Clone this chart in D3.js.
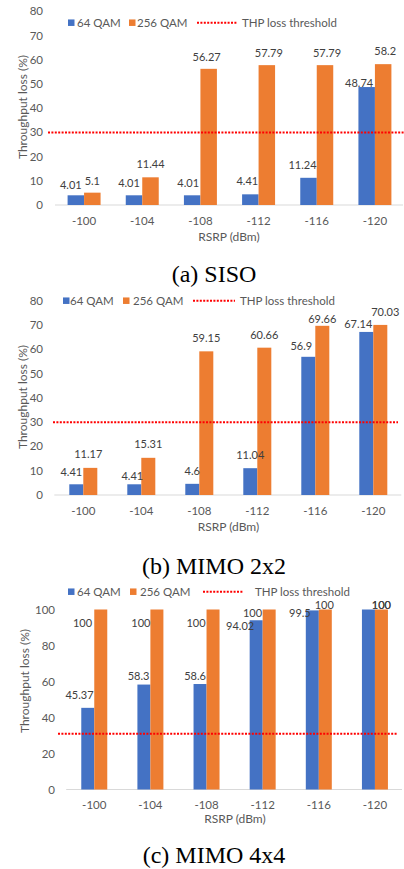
<!DOCTYPE html>
<html><head><meta charset="utf-8">
<script src="https://cdn.jsdelivr.net/npm/d3@7/dist/d3.min.js"></script>
<style>
html,body{margin:0;padding:0;background:#fff;}
svg{display:block;}
</style></head>
<body>
<script>
// ---------- data ----------
const categories = ["-100", "-104", "-108", "-112", "-116", "-120"];
const seriesNames = ["64 QAM", "256 QAM"];
const sisoQam64 = [4.01, 4.01, 4.01, 4.41, 11.24, 48.74];
const sisoQam256 = [5.1, 11.44, 56.27, 57.79, 57.79, 58.2];
const mimo2Qam64 = [4.41, 4.41, 4.6, 11.04, 56.9, 67.14];
const mimo2Qam256 = [11.17, 15.31, 59.15, 60.66, 69.66, 70.03];
const mimo4Qam64 = [45.37, 58.3, 58.6, 94.02, 99.5, 100];
const mimo4Qam256 = [100, 100, 100, 100, 100, 100];
const yTicksAB = [0, 10, 20, 30, 40, 50, 60, 70, 80];
const yTicksC = [0, 20, 40, 60, 80, 100];
const thresholds = [30, 30, 31];
const thresholdName = "THP loss threshold";
const captions = ["(a) SISO", "(b) MIMO 2x2", "(c) MIMO 4x4"];
const xTitle = "RSRP (dBm)";
const yTitle = "Throughput loss (%)";

// ---------- layout (positions / styles) ----------
const W = 404, H = 869;
const colors = ["#4472C4", "#ED7D31"];
const FONT = "Lato, 'Open Sans', sans-serif";
const panels = [
  { s: [sisoQam64, sisoQam256], ticks: yTicksAB, yMax: 80,
    x0: 55, x1: 404, y0: 205, y1: 11.4, bandFrac: 0.567,
    tickRight: 43, yTitleX: 23, yTitleY: 107, xTickBase: 225, xTitleX: 229, xTitleBase: 241,
    capBase: 282, legY: 22.7, leg: [68, 77, 129, 137, 197, 237, 242], thrX: [48, 404],
    // label nudges: [series][cat] = [dx, dy] relative to a point 12px above the bar top-centre
    nudge: [[[-5,1.7],[-5,-0.6],[-4,-0.6],[-3,-1.3],[-6,-0.8],[-7.5,8]],
            [[0,0.3],[0,-1],[-2,0],[2,-0.4],[2,-0.4],[2,-1.4]]] },
  { s: [mimo2Qam64, mimo2Qam256], ticks: yTicksAB, yMax: 80,
    x0: 54.3, x1: 402.3, y0: 495, y1: 300.7, bandFrac: 0.483,
    tickRight: 43, yTitleX: 23, yTitleY: 397, xTickBase: 515, xTitleX: 228.5, xTitleBase: 531,
    capBase: 574, legY: 300.7, leg: [63, 70, 123, 133, 193, 235, 240], thrX: [53, 398],
    nudge: [[[-5,-0.6],[-2,3.7],[0,-0.2],[0,-1.3],[-7,1.4],[-8,3.8]],
            [[-2,-1.7],[0,-1.7],[0,-1.6],[0,-0.2],[0,5],[5,-1.2]]] },
  { s: [mimo4Qam64, mimo4Qam256], ticks: yTicksC, yMax: 100,
    x0: 66.2, x1: 403, y0: 789.5, y1: 609.5, bandFrac: 0.463,
    tickRight: 55, yTitleX: 25, yTitleY: 681, xTickBase: 809, xTitleX: 235, xTitleBase: 822.5,
    capBase: 863, legY: 591.7, leg: [68, 77, 130, 140, 203, 243, 255], thrX: [58, 397],
    nudge: [[[-8.3,-0.8],[-5.4,3.4],[-5,4],[-16,17.7],[-12.4,14.6],[13,7.5]],
            [[-18.3,25.8],[-16,25.5],[-17,25.5],[-16.7,15.8],[-1,7.5],[0,7.5]]] }
];

const svg = d3.select("body").append("svg").attr("width", W).attr("height", H)
  .style("font-family", FONT);

panels.forEach((p, pi) => {
  const g = svg.append("g");
  const pad = 1 - p.bandFrac;
  const x = d3.scaleBand().domain(categories).range([p.x0, p.x1])
    .paddingInner(pad).paddingOuter(pad / 2);
  const xs = d3.scaleBand().domain(seriesNames).range([0, x.bandwidth()]);
  const y = d3.scaleLinear().domain([0, p.yMax]).range([p.y0, p.y1]);

  // y tick labels
  g.selectAll("text.yt").data(p.ticks).join("text").attr("class", "yt")
    .attr("x", p.tickRight).attr("y", d => y(d)).attr("dy", "0.35em")
    .attr("text-anchor", "end").attr("fill", "#595959").attr("font-size", 11.5)
    .text(d => d);

  // baseline
  g.append("line").attr("x1", p.x0).attr("x2", p.x1 - 1).attr("y1", y(0)).attr("y2", y(0))
    .attr("stroke", "#D9D9D9").attr("stroke-width", 1);

  // bars
  const rows = [];
  p.s.forEach((arr, si) => arr.forEach((v, ci) => rows.push({ si, ci, v })));
  g.selectAll("rect.bar").data(rows).join("rect").attr("class", "bar")
    .attr("x", d => x(categories[d.ci]) + xs(seriesNames[d.si]))
    .attr("width", xs.bandwidth())
    .attr("y", d => y(d.v)).attr("height", d => y(0) - y(d.v))
    .attr("fill", d => colors[d.si]);

  // threshold
  g.append("line").attr("x1", p.thrX[0]).attr("x2", p.thrX[1])
    .attr("y1", y(thresholds[pi])).attr("y2", y(thresholds[pi]))
    .attr("stroke", "#FF0000").attr("stroke-width", 2).attr("stroke-dasharray", "2,1.4");

  // data labels
  g.selectAll("text.dl").data(rows).join("text").attr("class", "dl")
    .attr("x", d => x(categories[d.ci]) + xs(seriesNames[d.si]) + xs.bandwidth() / 2 + p.nudge[d.si][d.ci][0])
    .attr("y", d => y(d.v) - 12 + p.nudge[d.si][d.ci][1])
    .attr("dy", "0.35em").attr("text-anchor", "middle")
    .attr("fill", "#404040").attr("font-size", 11)
    .text(d => d.v);

  // x tick labels
  g.selectAll("text.xt").data(categories).join("text").attr("class", "xt")
    .attr("x", d => x(d) + x.bandwidth() / 2).attr("y", p.xTickBase)
    .attr("text-anchor", "middle").attr("fill", "#595959").attr("font-size", 11.5)
    .text(d => d);

  // axis titles
  g.append("text").attr("x", p.xTitleX).attr("y", p.xTitleBase)
    .attr("text-anchor", "middle").attr("fill", "#595959").attr("font-size", 12).text(xTitle);
  g.append("text").attr("transform", `translate(${p.yTitleX},${p.yTitleY}) rotate(-90)`)
    .attr("dy", "0.35em").attr("text-anchor", "middle").attr("fill", "#595959")
    .attr("font-size", 12).text(yTitle);

  // legend
  const L = p.leg;
  const sq = 6.5;
  [0, 1].forEach(i => {
    g.append("rect").attr("x", L[i * 2]).attr("y", p.legY - sq / 2).attr("width", sq).attr("height", sq)
      .attr("fill", colors[i]);
    g.append("text").attr("x", L[i * 2 + 1]).attr("y", p.legY).attr("dy", "0.35em")
      .attr("fill", "#595959").attr("font-size", 11.5).text(seriesNames[i]);
  });
  g.append("line").attr("x1", L[4]).attr("x2", L[5]).attr("y1", p.legY).attr("y2", p.legY)
    .attr("stroke", "#FF0000").attr("stroke-width", 2).attr("stroke-dasharray", "2,1.4");
  g.append("text").attr("x", L[6]).attr("y", p.legY).attr("dy", "0.35em")
    .attr("fill", "#595959").attr("font-size", 11.5).text(thresholdName);

  // caption
  g.append("text").attr("x", 214).attr("y", p.capBase).attr("text-anchor", "middle")
    .attr("font-family", "'Liberation Serif', 'Times New Roman', serif")
    .attr("font-size", 24).attr("fill", "#000").text(captions[pi]);
});
</script>
</body></html>
